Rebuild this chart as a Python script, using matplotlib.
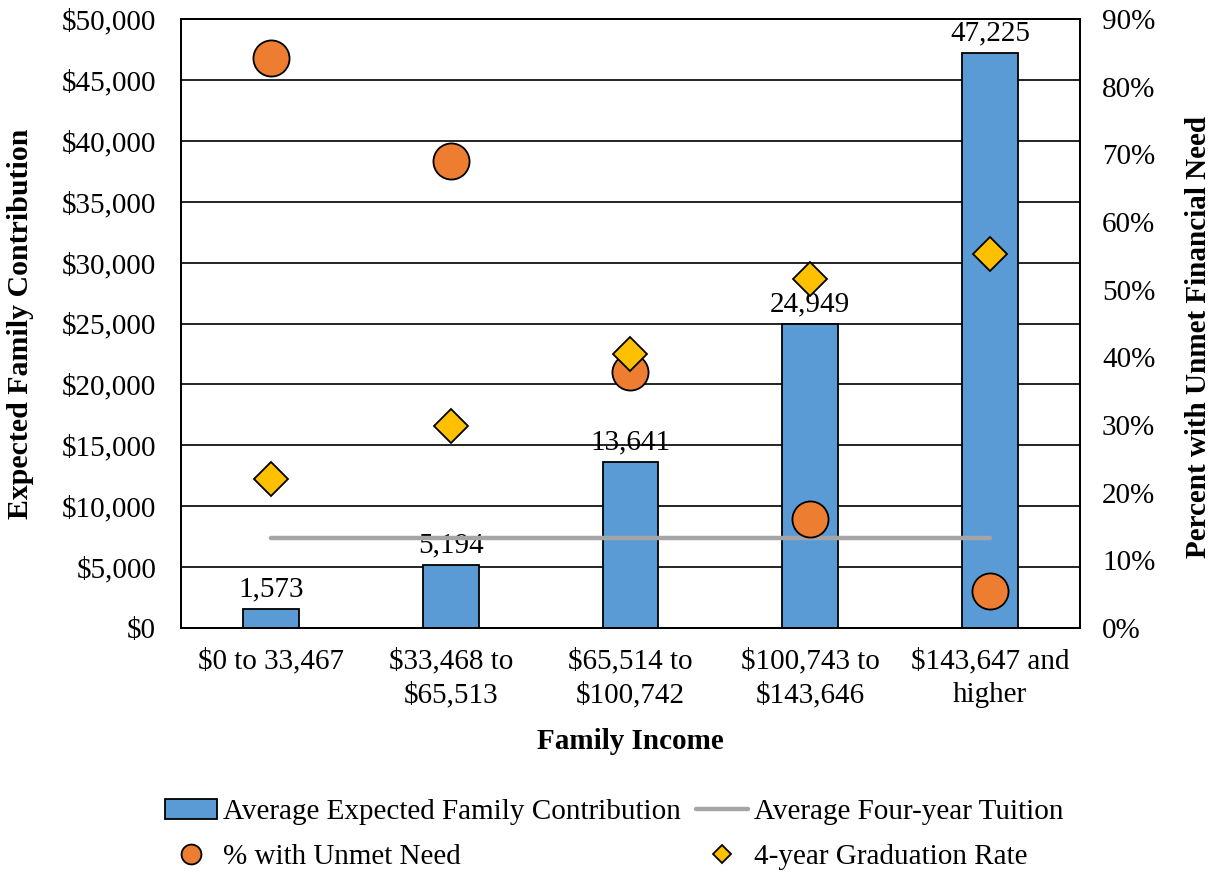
import numpy as np
import matplotlib.pyplot as plt
from matplotlib.ticker import FuncFormatter

plt.rcParams['font.family'] = ['Liberation Serif', 'DejaVu Serif']

categories = ['$0 to 33,467', '$33,468 to\n$65,513', '$65,514 to\n$100,742',
              '$100,743 to\n$143,646', '$143,647 and\nhigher']
efc = [1573, 5194, 13641, 24949, 47225]
tuition = [7400, 7400, 7400, 7400, 7400]
unmet = [84.2, 69.0, 37.8, 16.1, 5.5]
grad = [22.0, 29.9, 40.5, 51.6, 55.3]

fig = plt.figure(figsize=(12.16, 8.72), dpi=100)
ax = fig.add_axes([0.149, 0.280, 0.739, 0.698])
ax2 = ax.twinx()

x = np.arange(len(categories))
bars = ax.bar(x, efc, width=0.31, color='#5B9BD5', edgecolor='black',
              linewidth=1.3, zorder=2, label='Average Expected Family Contribution')
for xi, v in zip(x, efc):
    ax.text(xi, v + 550, f'{v:,}', ha='center', va='bottom', fontsize=21, zorder=3)
line, = ax.plot(x, tuition, color='#A5A5A5', linewidth=3.2, solid_capstyle='round',
                zorder=4, label='Average Four-year Tuition')

circ, = ax2.plot(x, unmet, 'o', color='#ED7D31', markeredgecolor='black',
                 markeredgewidth=1.3, markersize=26, linestyle='none',
                 label='% with Unmet Need')
dia, = ax2.plot(x, grad, 'D', color='#FFC000', markeredgecolor='black',
                markeredgewidth=1.3, markersize=17.5, linestyle='none',
                label='4-year Graduation Rate')

ax.set_xlim(-0.5, 4.5)
ax.set_ylim(0, 50000)
ax.set_yticks(np.arange(0, 50001, 5000))
ax.yaxis.set_major_formatter(FuncFormatter(lambda v, p: f'${v:,.0f}'))
ax2.set_ylim(0, 90)
ax2.set_yticks(np.arange(0, 91, 10))
ax2.yaxis.set_major_formatter(FuncFormatter(lambda v, p: f'{v:.0f}%'))

ax.grid(axis='y', color='black', linewidth=1.2, zorder=0)
ax.set_axisbelow(True)
ax.set_xticks(x)
ax.set_xticklabels(categories, fontsize=21, linespacing=1.4)
ax.tick_params(axis='x', length=0, pad=14)
ax.tick_params(axis='y', length=0, labelsize=21, pad=18)
ax2.tick_params(axis='y', length=0, labelsize=21, pad=16)
for a in (ax, ax2):
    for s in a.spines.values():
        s.set_color('black')
        s.set_linewidth(1.3)

ax.set_xlabel('Family Income', fontsize=21, fontweight='bold', labelpad=14)
ax.set_ylabel('Expected Family Contribution', fontsize=21.5, fontweight='bold')
ax.yaxis.set_label_coords(-0.1635, 0.5)
ax2.set_ylabel('Percent with Unmet Financial Need', fontsize=21, fontweight='bold')
ax2.yaxis.set_label_coords(1.117, 0.478)

fig.legend(handles=[bars, circ, line, dia], ncol=2, loc='center',
           bbox_to_anchor=(0.505, 0.043), frameon=False, fontsize=21,
           handlelength=1.8, handletextpad=0.2, columnspacing=0.5,
           labelspacing=0.62, markerscale=0.55)

fig.savefig('out.png', dpi=100)
